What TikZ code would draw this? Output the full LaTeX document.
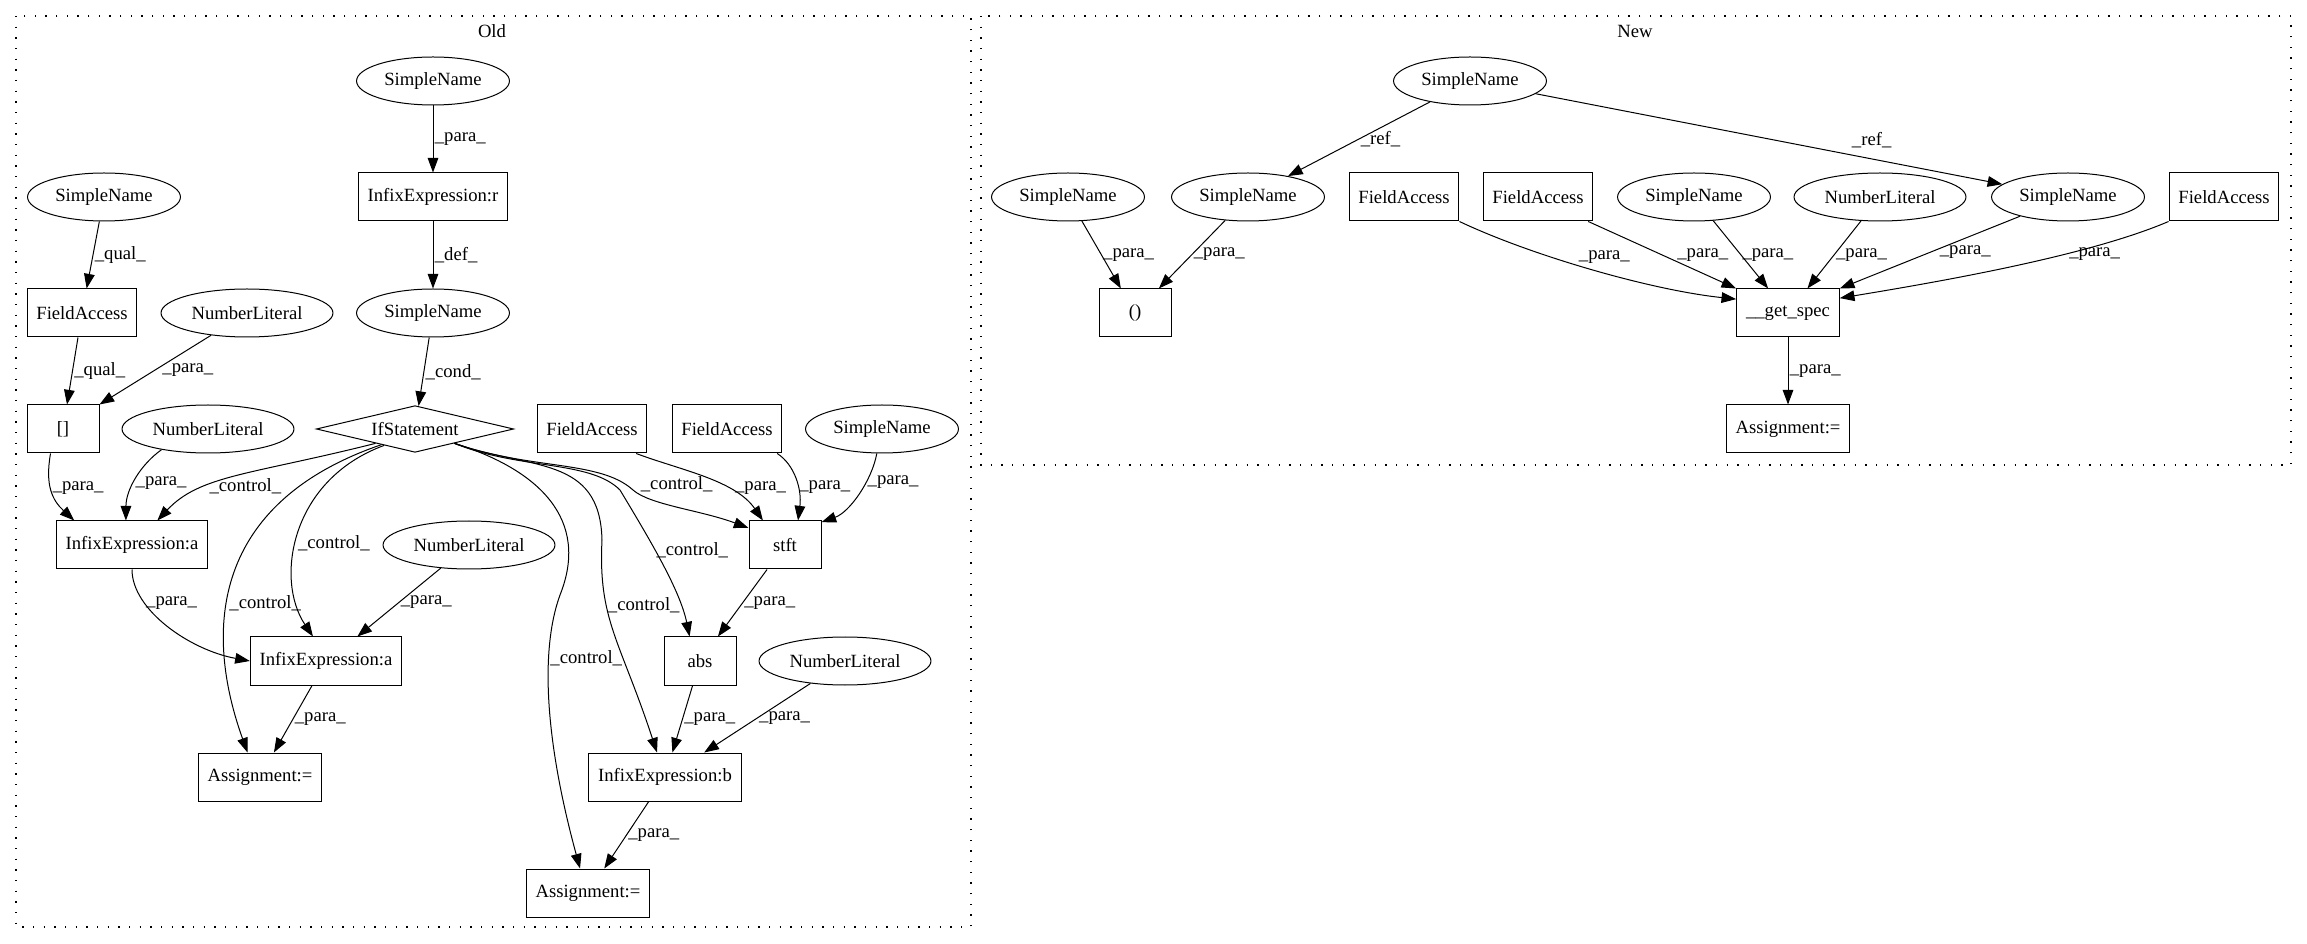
\documentclass[tikz,border=0pt]{standalone}
\usepackage{fontspec}
\setmainfont{Liberation Serif}
\usetikzlibrary{arrows.meta, positioning, shapes.geometric}

\begin{document}
\begin{tikzpicture}[
    x=0.75pt,
    y=-0.75pt,
    every node/.style={font=\fontsize{14pt}{17pt}\selectfont},
    rbox/.style={rectangle, draw, line width=0.75pt, minimum width=54pt, minimum height=36pt, inner xsep=7pt},
    oval/.style={ellipse, draw, line width=0.75pt, minimum height=36pt, inner xsep=4pt, inner ysep=0pt},
    cond/.style={diamond, draw, line width=0.75pt, aspect=4.2, minimum width=148pt, minimum height=35pt, inner sep=0pt},
    lbl/.style={inner sep=1pt},
    cluster/.style={line width=0.9pt, dash pattern=on 1pt off 7pt},
    link/.style={-{Triangle[length=11pt, width=8pt]}, line width=0.75pt}
]
\useasboundingbox (0,0) rectangle (2307,944);

\draw[cluster] (16,16) rectangle (971,927);
\node (oldTitle) at (492,31) {Old};
\node[oval] (snTop) at (433,81) {SimpleName};
\node[rbox] (infR) at (433,197) {InfixExpression:r};
\node[oval] (snCond) at (433,313) {SimpleName};
\node[cond] (ifs) at (415,429) {IfStatement};
\node[oval] (snLeft) at (104,197) {SimpleName};
\node[rbox] (faLeft) at (82,313) {FieldAccess};
\node[oval] (nlA) at (247,313) {NumberLiteral};
\node[rbox] (brk) at (63,429) {[]};
\node[oval] (nlB) at (208,429) {NumberLiteral};
\node[rbox] (faA) at (592,429) {FieldAccess};
\node[rbox] (faB) at (727,429) {FieldAccess};
\node[oval] (snR) at (882,429) {SimpleName};
\node[rbox] (infA1) at (132,545) {InfixExpression:a};
\node[oval] (nlC) at (469,545) {NumberLiteral};
\node[rbox] (stft) at (785,545) {stft};
\node[rbox] (infA2) at (326,661) {InfixExpression:a};
\node[rbox] (absN) at (700,661) {abs};
\node[oval] (nlD) at (845,661) {NumberLiteral};
\node[rbox] (asgA) at (260,777) {Assignment:=};
\node[rbox] (infB) at (665,777) {InfixExpression:b};
\node[rbox] (asgB) at (588,893) {Assignment:=};

\draw[link] (snTop) -- node[lbl, right] {\_para\_} (infR);
\draw[link] (infR) -- node[lbl, right] {\_def\_} (snCond);
\draw[link] (snCond) -- node[lbl, right] {\_cond\_} (ifs);
\draw[link] (snLeft) -- node[lbl, right] {\_qual\_} (faLeft);
\draw[link] (faLeft) -- node[lbl, right] {\_qual\_} (brk);
\draw[link] (nlA) -- node[lbl, right=4pt] {\_para\_} (brk.north east);
\draw[link] (brk.-117) .. controls (45,485) and (52,500) .. (infA1.157) node[lbl, right, pos=.45] {\_para\_};
\draw[link] (nlB.204) .. controls (140,465) and (126,490) .. (infA1.104) node[lbl, right, pos=.55] {\_para\_};
\draw[link] (ifs.200) .. controls (250,475) and (200,475) .. (infA1.44) node[lbl, right, pos=.65] {\_control\_};
\draw[link] (ifs.205) .. controls (220,500) and (200,620) .. (asgA.117) node[lbl, right, pos=.6] {\_control\_};
\draw[link] (ifs.208) .. controls (290,480) and (275,580) .. (infA2.118) node[lbl, right, pos=.55] {\_control\_};
\draw[link] (nlC) -- node[lbl, right] {\_para\_} (infA2.38);
\draw[link] (infA1.south) .. controls (132,610) and (190,650) .. (infA2.west) node[lbl, right, pos=.28] {\_para\_};
\draw[link] (infA2) -- node[lbl, right] {\_para\_} (asgA);
\draw[link] (ifs.340) .. controls (540,470) and (590,520) .. (560,595) .. controls (540,650) and (545,740) .. (asgB.108) node[lbl, right, pos=.32] {\_control\_};
\draw[link] (ifs.340) .. controls (530,470) and (600,455) .. (602,540) .. controls (598,620) and (620,640) .. (infB.108) node[lbl, right, pos=.33] {\_control\_};
\draw[link] (ifs.340) .. controls (520,470) and (590,460) .. (620,490) .. controls (650,540) and (680,590) .. (absN.113) node[lbl, right, pos=.4] {\_control\_};
\draw[link] (ifs.340) .. controls (530,470) and (600,460) .. (633,490) .. controls (650,505) and (700,510) .. (stft.155) node[lbl, above right, pos=.1] {\_control\_};
\draw[link] (faA.331) .. controls (680,470) and (735,480) .. (stft.132) node[lbl, right=6pt, pos=.65] {\_para\_};
\draw[link] (faB.334) .. controls (795,465) and (802,490) .. (stft.62) node[lbl, right, pos=.6] {\_para\_};
\draw[link] (snR.258) .. controls (872,480) and (850,512) .. (stft.32) node[lbl, right, pos=.35] {\_para\_};
\draw[link] (stft) -- node[lbl, right] {\_para\_} (absN);
\draw[link] (absN) -- node[lbl, right] {\_para\_} (infB);
\draw[link] (nlD) -- node[lbl, right] {\_para\_} (infB.32);
\draw[link] (infB) -- node[lbl, right] {\_para\_} (asgB);

\draw[cluster] (981,16) rectangle (2291,465);
\node (newTitle) at (1635,31) {New};
\node[oval] (snNew) at (1470,81) {SimpleName};
\node[oval] (snA) at (1068,197) {SimpleName};
\node[oval] (snB) at (1248,197) {SimpleName};
\node[rbox] (faN1) at (1404,197) {FieldAccess};
\node[rbox] (faN2) at (1538,197) {FieldAccess};
\node[oval] (snC) at (1694,197) {SimpleName};
\node[oval] (nlN) at (1880,197) {NumberLiteral};
\node[oval] (snD) at (2068,197) {SimpleName};
\node[rbox] (faN3) at (2224,197) {FieldAccess};
\node[rbox] (paren) at (1135,313) {()};
\node[rbox] (getSpec) at (1788,313) {\_\_get\_spec};
\node[rbox] (asgN) at (1788,429) {Assignment:=};

\draw[link] (snNew) -- node[lbl, right] {\_ref\_} (snB);
\draw[link] (snNew) -- node[lbl, above=7pt, pos=.72] {\_ref\_} (snD);
\draw[link] (snA) -- node[lbl, right] {\_para\_} (paren);
\draw[link] (snB) -- node[lbl, right] {\_para\_} (paren);
\draw[link] (faN1.south east) .. controls (1530,255) and (1650,290) .. (getSpec.165) node[lbl, above right, pos=.45] {\_para\_};
\draw[link] (faN2.334) -- node[lbl, right=10pt] {\_para\_} (getSpec.north west);
\draw[link] (snC) -- node[lbl, right] {\_para\_} (getSpec);
\draw[link] (nlN) -- node[lbl, right] {\_para\_} (getSpec);
\draw[link] (snD) -- node[lbl, right=6pt] {\_para\_} (getSpec.north east);
\draw[link] (faN3.south west) .. controls (2090,255) and (1950,280) .. (getSpec.16) node[lbl, right, pos=.35] {\_para\_};
\draw[link] (getSpec) -- node[lbl, right] {\_para\_} (asgN);
\end{tikzpicture}
\end{document}
